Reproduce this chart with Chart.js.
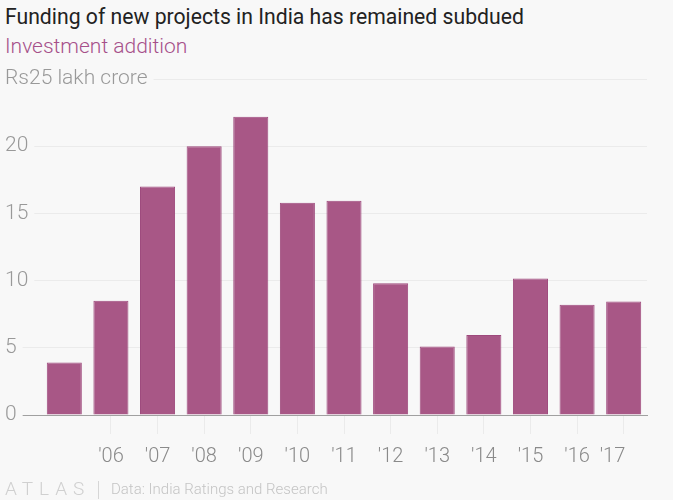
<!DOCTYPE html>
<html>
<head>
<meta charset="utf-8">
<script src="https://cdn.jsdelivr.net/npm/chart.js@4"></script>
<style>
  html, body { margin: 0; padding: 0; background: #f8f8f8; }
  body { width: 673px; height: 500px; position: relative; overflow: hidden; font-family: Roboto, sans-serif; }
  .title { position: absolute; left: 5px; top: 5px; font-size: 21.2px; line-height: 24px; color: #222; white-space: nowrap; }
  .subtitle { position: absolute; left: 5px; top: 34px; font-size: 21px; line-height: 24px; font-weight: 300; color: #a6508a; white-space: nowrap; }
  .chartBox { position: absolute; left: 0; top: 60px; width: 673px; height: 426px; }
  .logo { position: absolute; left: 5px; top: 479px; font-size: 19px; line-height: 20px; font-weight: 300; letter-spacing: 6px; color: #d0d0d0; }
  .sep { position: absolute; left: 98px; top: 481px; width: 1px; height: 18px; background: #d6d6d6; }
  .source { position: absolute; left: 111px; top: 480px; font-size: 15px; line-height: 18px; font-weight: 300; color: #c4c4c4; white-space: nowrap; }
</style>
</head>
<body>
<div class="title">Funding of new projects in India has remained subdued</div>
<div class="subtitle">Investment addition</div>
<div class="chartBox"><canvas id="barchart"></canvas></div>
<div class="logo">ATLAS</div>
<div class="sep"></div>
<div class="source">Data: India Ratings and Research</div>
<script>
// Data
const years = ['2005', '2006', '2007', '2008', '2009', '2010', '2011', '2012', '2013', '2014', '2015', '2016', '2017'];
const xTickLabels = ['', "'06", "'07", "'08", "'09", "'10", "'11", "'12", "'13", "'14", "'15", "'16", "'17\u2007\u2007"];
const investment = [3.9, 8.5, 17.0, 20.0, 22.2, 15.8, 15.95, 9.8, 5.1, 5.95, 10.15, 8.2, 8.45];
const yTickLabels = ['0', '5', '10', '15', '20', 'Rs25 lakh crore'];

// Styles
const barColor = '#a85786';
const barEdge = '#9e4a7d';
const gridColor = '#ebebeb';
const baseColor = '#a0a0a0';
const bgColor = '#f8f8f8';
const xTickFont = {family: 'Roboto', size: 20, weight: '300'};
const yTickFont = {family: 'Roboto', size: 21, weight: '300'};
const yAxisWidth = 36;

const ctx = document.getElementById('barchart');

const config = {
    type: 'bar',
    data: {
        labels: years,
        datasets: [{
            label: 'Investment addition',
            data: investment,
            backgroundColor: barColor,
            borderColor: barEdge,
            borderWidth: 1,
            barPercentage: 0.752,
            categoryPercentage: 1,
        }],
    },
    options: {
        responsive: true,
        maintainAspectRatio: false,
        animation: false,
        layout: {
            padding: {left: 5, right: 26, top: 19, bottom: 6},
        },
        plugins: {
            legend: {display: false},
            title: {display: false},
            tooltip: {enabled: false},
        },
        scales: {
            x: {
                grid: {
                    offset: false,
                    drawOnChartArea: false,
                    drawTicks: true,
                    tickLength: 19,
                    color: function (c) {
                        return c.index === 0 ? 'rgba(0,0,0,0)' : gridColor;
                    },
                },
                border: {display: true, color: baseColor},
                ticks: {
                    font: xTickFont,
                    color: '#8a8a8a',
                    padding: 11,
                    maxRotation: 0,
                    autoSkip: false,
                    callback: function (value, index) {
                        return xTickLabels[index];
                    },
                },
            },
            y: {
                min: 0,
                max: 25,
                afterFit: function (scale) {
                    scale.width = yAxisWidth;
                },
                grid: {
                    drawTicks: true,
                    tickLength: yAxisWidth,
                    color: function (c) {
                        return c.tick && c.tick.value === 0 ? baseColor : gridColor;
                    },
                },
                border: {display: false},
                ticks: {
                    stepSize: 5,
                    mirror: true,
                    crossAlign: 'near',
                    padding: -yAxisWidth,
                    font: yTickFont,
                    color: '#999',
                    showLabelBackdrop: true,
                    backdropColor: bgColor,
                    backdropPadding: {left: 0, right: 6, top: 1, bottom: 1},
                    callback: function (value, index) {
                        return yTickLabels[index];
                    },
                },
            },
        },
    },
};

const barChart = new Chart(ctx, config);
</script>
</body>
</html>
